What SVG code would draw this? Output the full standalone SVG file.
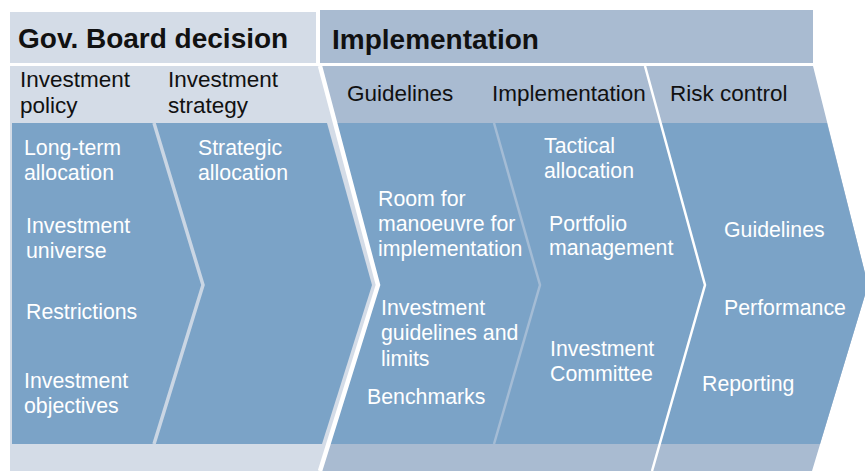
<svg xmlns="http://www.w3.org/2000/svg" width="865" height="471" viewBox="0 0 865 471">
<style>
.hd{font-family:"Liberation Sans",Arial,sans-serif;font-weight:bold;font-size:28px;fill:#111}
.sh{font-family:"Liberation Sans",Arial,sans-serif;font-size:22.5px;fill:#111}
.bd{font-family:"Liberation Sans",Arial,sans-serif;font-size:21.3px;fill:#fff}
.light{fill:#d4dce7}
.mid{fill:#a9bbd1}
.blue{fill:#7ba3c7}
</style>
<rect width="865" height="471" fill="#fff"/>
<g id="header-gov">
<rect class="light" x="10" y="12" width="306" height="51"/>
<text class="hd" x="18" y="48">Gov. Board decision</text>
</g>
<g id="header-impl">
<rect class="mid" x="320" y="10" width="493" height="53"/>
<text class="hd" x="332" y="49">Implementation</text>
</g>
<g id="backgrounds">
<polygon class="light" points="10,66 320,66 378,285 320,471 10,471"/>
<polygon class="mid" points="320,66 813,66 868,285 812,471 320,471 378,285"/>
<polygon class="blue" points="12,123 327,123 372,285 322,444 12,444"/>
<polygon class="blue" points="335,123 827,123 868,285 820,444 328,444 378,285"/>
</g>
<g id="connectors" fill="none">
<polyline points="154,123 203,285 154,444" stroke="#cad6e4" stroke-width="3.5"/>
<polyline points="494,123 540,285 494,444" stroke="#a4bcd5" stroke-width="2.5"/>
<polyline points="320,66 378,285 320,471" stroke="#fff" stroke-width="4.5"/>
<polyline points="645,66 705,285 652,471" stroke="#fff" stroke-width="2.5"/>
</g>
<g id="col-policy">
<text class="sh" x="20" y="87">Investment</text>
<text class="sh" x="20" y="113">policy</text>
<text class="bd" x="24" y="155">Long-term</text>
<text class="bd" x="24" y="180">allocation</text>
<text class="bd" x="26" y="233">Investment</text>
<text class="bd" x="26" y="258">universe</text>
<text class="bd" x="26" y="319">Restrictions</text>
<text class="bd" x="24" y="388">Investment</text>
<text class="bd" x="24" y="413">objectives</text>
</g>
<g id="col-strategy">
<text class="sh" x="168" y="87">Investment</text>
<text class="sh" x="168" y="113">strategy</text>
<text class="bd" x="198" y="155">Strategic</text>
<text class="bd" x="198" y="180">allocation</text>
</g>
<g id="col-guidelines">
<text class="sh" x="347" y="101">Guidelines</text>
<text class="bd" x="378" y="206">Room for</text>
<text class="bd" x="378" y="231">manoeuvre for</text>
<text class="bd" x="378" y="256">implementation</text>
<text class="bd" x="381" y="315">Investment</text>
<text class="bd" x="381" y="340">guidelines and</text>
<text class="bd" x="381" y="366">limits</text>
<text class="bd" x="367" y="404">Benchmarks</text>
</g>
<g id="col-implementation">
<text class="sh" x="492" y="101">Implementation</text>
<text class="bd" x="544" y="153">Tactical</text>
<text class="bd" x="544" y="178">allocation</text>
<text class="bd" x="549" y="231">Portfolio</text>
<text class="bd" x="549" y="255">management</text>
<text class="bd" x="550" y="356">Investment</text>
<text class="bd" x="550" y="381">Committee</text>
</g>
<g id="col-risk">
<text class="sh" x="670" y="101">Risk control</text>
<text class="bd" x="724" y="237">Guidelines</text>
<text class="bd" x="724" y="315">Performance</text>
<text class="bd" x="702" y="391">Reporting</text>
</g>
</svg>
